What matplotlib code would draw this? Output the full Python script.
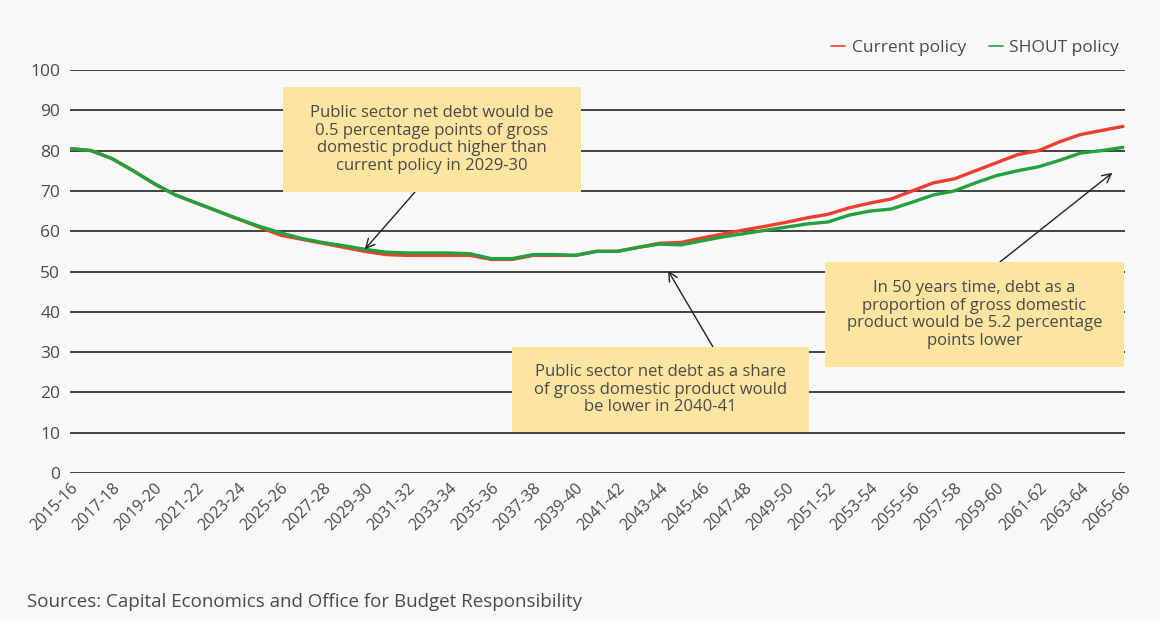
import matplotlib.pyplot as plt
from matplotlib.patches import Rectangle
import numpy as np

plt.rcParams['font.family'] = ['Open Sans', 'DejaVu Sans']

# ===============
# Data
years = [f'{y}-{str(y + 1)[-2:]}' for y in range(2015, 2066)]

current_policy = [80.5, 80.0, 78.0, 75.0, 71.8, 69.0, 67.0, 65.0, 63.0, 61.0,
                  59.0, 58.0, 57.0, 56.0, 55.0, 54.2, 54.0, 54.0, 54.0, 54.0,
                  53.0, 53.0, 54.0, 54.0, 54.0, 55.0, 55.0, 56.0, 57.0, 57.2,
                  58.3, 59.3, 60.3, 61.2, 62.2, 63.3, 64.2, 65.8, 67.0, 68.0,
                  70.0, 72.0, 73.0, 75.0, 77.0, 79.0, 80.0, 82.2, 84.0, 85.0,
                  86.0]
shout_policy = [80.5, 80.0, 78.0, 75.0, 71.8, 69.0, 67.0, 65.0, 63.0, 61.2,
                59.6, 58.2, 57.2, 56.4, 55.5, 54.8, 54.6, 54.6, 54.6, 54.4,
                53.2, 53.2, 54.2, 54.2, 54.0, 55.0, 55.0, 56.0, 56.8, 56.6,
                57.6, 58.6, 59.4, 60.2, 61.0, 61.8, 62.3, 64.0, 65.0, 65.5,
                67.2, 69.0, 70.0, 72.0, 73.8, 75.0, 76.0, 77.6, 79.4, 80.0,
                80.8]

W, H = 1160, 621
TXT = '#4a4a4a'
BOX = '#fce5a0'


def fx(px):
    return px / W


def fy(py):
    return 1 - py / H


fig = plt.figure(figsize=(W / 100, H / 100), dpi=100, facecolor='#f8f8f8')
ax = fig.add_axes([fx(70), fy(473), fx(1125) - fx(70), fy(70) - fy(473)])
ax.set_facecolor('none')

x = np.arange(len(years))
ax.plot(x, current_policy, color='#ef3e30', lw=2.4, label='Current policy',
        solid_capstyle='round', zorder=3)
ax.plot(x, shout_policy, color='#22a23e', lw=2.4, label='SHOUT policy',
        solid_capstyle='round', zorder=4)

ax.set_xlim(0, 50.1)
ax.set_ylim(0, 100)
ax.set_yticks(np.arange(0, 101, 10))
ax.grid(axis='y', color='#333333', lw=1.3)
ax.set_axisbelow(True)
for s in ax.spines.values():
    s.set_visible(False)
ax.tick_params(axis='y', length=0, pad=7, labelsize=12.5, labelcolor=TXT)
ax.tick_params(axis='x', length=0, pad=5, labelsize=11.5, labelcolor=TXT)
ax.set_xticks(x[::2])
ax.set_xticklabels(years[::2], rotation=45, ha='right', rotation_mode='anchor')

leg = fig.legend(loc='upper right', bbox_to_anchor=(fx(1135), fy(24)), ncol=2,
                 frameon=False, fontsize=12.5, handlelength=0.8,
                 columnspacing=1.3, handletextpad=0.4, labelcolor=TXT)
for h in leg.get_lines():
    h.set_linewidth(1.2)

# Annotation boxes (pixel extents from the reference)
boxes = [
    ((283, 87, 581, 192),
     'Public sector net debt would be\n0.5 percentage points of gross\n'
     'domestic product higher than\ncurrent policy in 2029-30',
     (415, 192), (14, 55.5)),
    ((512, 347, 809, 432),
     'Public sector net debt as a share\nof gross domestic product would\n'
     'be lower in 2040-41',
     (713, 347), (28.4, 50.2)),
    ((825, 262, 1124, 367),
     'In 50 years time, debt as a\nproportion of gross domestic\n'
     'product would be 5.2 percentage\npoints lower',
     (1000, 262), (49.5, 74.5)),
]
for (x0, y0, x1, y1), text, start, tip in boxes:
    fig.patches.append(Rectangle((fx(x0), fy(y1)), fx(x1) - fx(x0), fy(y0) - fy(y1),
                                 transform=fig.transFigure, facecolor=BOX,
                                 edgecolor='none', zorder=5))
    fig.text(fx((x0 + x1) / 2), fy((y0 + y1) / 2), text, ha='center', va='center',
             fontsize=12, color=TXT, linespacing=1.15, zorder=6)
    ax.annotate('', xy=tip, xycoords='data',
                xytext=(fx(start[0]), fy(start[1])), textcoords='figure fraction',
                arrowprops=dict(arrowstyle='->', color='#222222', lw=1,
                                mutation_scale=16, shrinkA=0, shrinkB=0),
                zorder=6)

fig.text(fx(27), fy(602), 'Sources: Capital Economics and Office for Budget Responsibility',
         fontsize=13.5, color=TXT, va='center')

fig.savefig('out.png', dpi=100, facecolor=fig.get_facecolor())
